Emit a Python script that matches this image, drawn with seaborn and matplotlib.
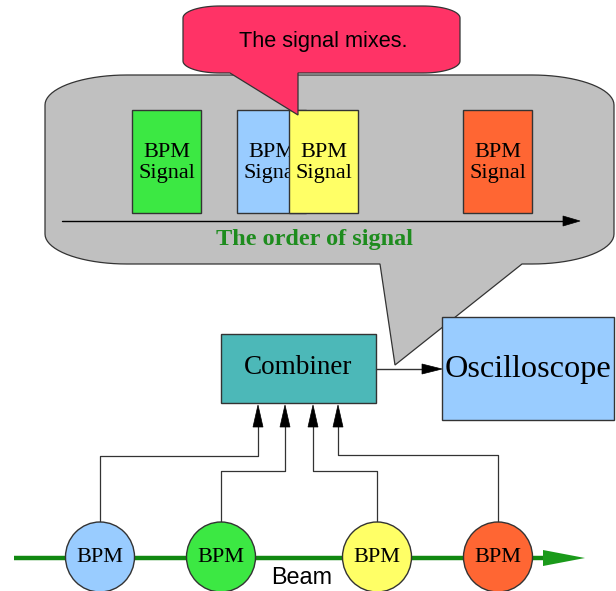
import numpy as np
import seaborn as sns
import matplotlib.pyplot as plt
from matplotlib.patches import Polygon, Rectangle, Ellipse

# ---------------------------------------------
# labels & colours
# ---------------------------------------------
signal_labels = ["BPM\nSignal", "BPM\nSignal", "BPM\nSignal", "BPM\nSignal"]
signal_colors = ["#3ce843", "#99ccff", "#ffff66", "#ff6633"]
bpm_labels = ["BPM", "BPM", "BPM", "BPM"]
bpm_colors = ["#99ccff", "#3ce843", "#ffff66", "#ff6633"]
bubble_text = "The signal mixes."
order_text = "The order of signal"
combiner_text = "Combiner"
scope_text = "Oscilloscope"
beam_text = "Beam"

# layout (pixel coordinates, y grows downward)
signal_left = [132, 237, 289, 463]
bpm_cx = [100, 221, 377, 498]
wire_turn_y = [456, 471, 471, 455]
wire_in_x = [258, 285, 313, 338]

sns.set_theme(style="white")
plt.rcParams["text.color"] = "black"
SERIF = "Liberation Serif"
SANS = "Liberation Sans"
EDGE = "#333333"

fig = plt.figure(figsize=(6.16, 5.91), dpi=100)
ax = fig.add_axes([0, 0, 1, 1])
ax.set_xlim(0, 616)
ax.set_ylim(591, 0)
ax.axis("off")


def bubble(x0, y0, x1, y1, rx, ry, tail):
    # rounded box with elliptic corners and a tail on the bottom edge
    pts = []
    t = np.linspace(0, np.pi / 2, 20)
    for cx, cy, a0 in [(x0 + rx, y0 + ry, np.pi), (x1 - rx, y0 + ry, 1.5 * np.pi),
                       (x1 - rx, y1 - ry, 0.0)]:
        pts += list(zip(cx + rx * np.cos(a0 + t), cy + ry * np.sin(a0 + t)))
    pts += tail
    cx, cy = x0 + rx, y1 - ry
    pts += list(zip(cx + rx * np.cos(np.pi / 2 + t), cy + ry * np.sin(np.pi / 2 + t)))
    return pts


def head(tip, direction, length, half):
    x, y = tip
    if direction == "up":
        return [(x, y), (x - half, y + length), (x + half, y + length)]
    return [(x, y), (x - length, y - half), (x - length, y + half)]


# gray callout
gray = bubble(45, 75, 614, 264, 82, 30, [(522, 264), (395, 365), (380, 264)])
ax.add_patch(Polygon(gray, closed=True, fc="#c0c0c0", ec=EDGE, lw=0.9, zorder=1))

# signal boxes
for i, (x, lab, col) in enumerate(zip(signal_left, signal_labels, signal_colors)):
    z = 2 + i * 0.2
    ax.add_patch(Rectangle((x, 110), 69, 103, fc=col, ec=EDGE, lw=1.0, zorder=z))
    ax.text(x + 34.5, 163, lab, ha="center", va="center", family=SERIF,
            fontsize=16, linespacing=1.2, zorder=z + 0.1)

# order arrow
ax.plot([62, 566], [221, 221], color="black", lw=1.0, zorder=3)
ax.add_patch(Polygon(head((580, 221), "right", 17, 5), fc="black", ec="black", lw=0.5, zorder=3))
ax.text(314, 240, order_text, ha="center", va="center", family=SERIF, fontweight="bold",
        fontsize=17.5, color="#1e8c1e", zorder=3)

# red callout
red = bubble(183, 6, 460, 73, 37, 12, [(298, 73), (298, 115), (230, 73)])
ax.add_patch(Polygon(red, closed=True, fc="#ff3366", ec=EDGE, lw=0.9, zorder=5))
ax.text(323, 42, bubble_text, ha="center", va="center", family=SANS, fontsize=15.7, zorder=6)

# combiner and oscilloscope
ax.add_patch(Rectangle((221, 334), 155, 69, fc="#4cb8b8", ec=EDGE, lw=1.0, zorder=2))
ax.text(298, 368, combiner_text, ha="center", va="center", family=SERIF, fontsize=19.5, zorder=3)
ax.add_patch(Rectangle((442, 317), 172, 103, fc="#99ccff", ec=EDGE, lw=1.0, zorder=2))
ax.text(528, 369, scope_text, ha="center", va="center", family=SERIF, fontsize=23.2, zorder=3)
ax.plot([376, 425], [369, 369], color=EDGE, lw=1.0, zorder=2)
ax.add_patch(Polygon(head((442, 369), "right", 20, 5), fc="black", ec="black", lw=0.5, zorder=3))

# wires from BPMs to combiner
for cx, ty, ix in zip(bpm_cx, wire_turn_y, wire_in_x):
    ax.plot([cx, cx, ix, ix], [523, ty, ty, 425], color=EDGE, lw=0.9, zorder=1)
    ax.add_patch(Polygon(head((ix, 405), "up", 22, 5), fc="black", ec="black", lw=0.5, zorder=3))

# beam line
ax.plot([14, 548], [558, 558], color="#118811", lw=3.2, solid_capstyle="butt", zorder=1.5)
ax.add_patch(Polygon([(543, 550), (585, 558), (543, 566)], fc="#1a9a1a", ec="none", zorder=1.5))
ax.text(302, 577, beam_text, ha="center", va="center", family=SANS, fontsize=16.8, zorder=4)

# BPM pickups
for cx, lab, col in zip(bpm_cx, bpm_labels, bpm_colors):
    ax.add_patch(Ellipse((cx, 557), 69, 70, fc=col, ec=EDGE, lw=1.0, zorder=3))
    ax.text(cx, 557, lab, ha="center", va="center", family=SERIF, fontsize=16, zorder=4)

fig.savefig("out.png", dpi=100, facecolor="white")
